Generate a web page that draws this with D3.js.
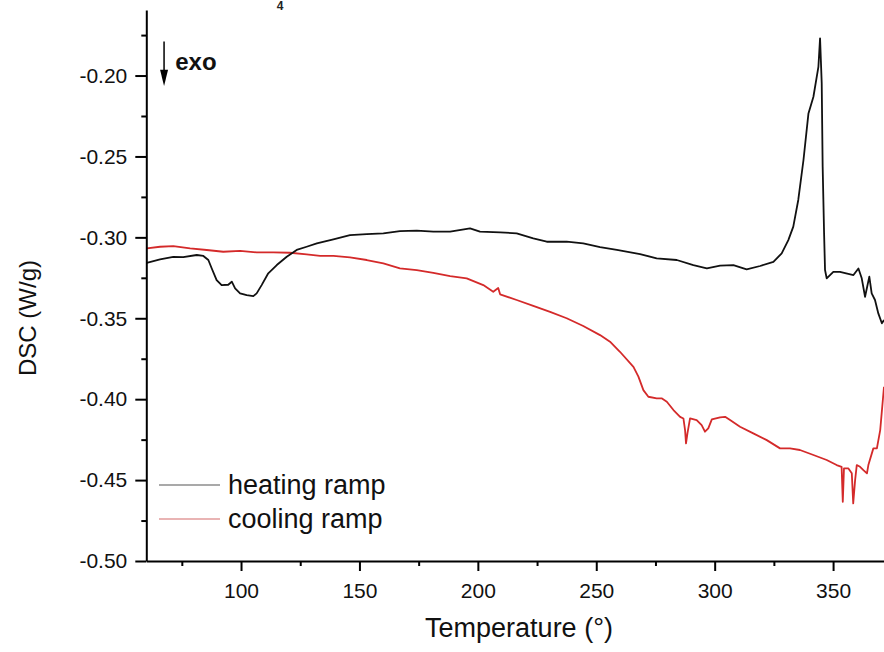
<!DOCTYPE html>
<html>
<head>
<meta charset="utf-8">
<script src="https://cdn.jsdelivr.net/npm/d3@7"></script>
<style>
  body { margin: 0; background: #fff; }
  svg { display: block; font-family: "Liberation Sans", Arial, sans-serif; }
</style>
</head>
<body>
<svg></svg>
<script>
// values: [temperature, DSC W/g]
const heatingRamp = [
  [60.2, -0.3157], [65.8, -0.3136], [71.4, -0.3120], [75.6, -0.3122], [81.3, -0.3109],
  [84.1, -0.3115], [86.2, -0.3140], [87.6, -0.3191], [89.7, -0.3264], [91.8, -0.3295],
  [94.6, -0.3293], [96.1, -0.3274], [97.5, -0.3315], [99.6, -0.3346], [102.4, -0.3357],
  [105.2, -0.3363], [106.6, -0.3346], [108.7, -0.3295], [111.5, -0.3222], [115.1, -0.3171],
  [119.3, -0.3120], [123.5, -0.3078], [127.7, -0.3058], [132.0, -0.3037], [139.0, -0.3012],
  [146.0, -0.2986], [153.1, -0.2980], [160.1, -0.2975], [167.1, -0.2961], [174.2, -0.2959],
  [181.2, -0.2965], [188.3, -0.2965], [196.7, -0.2944], [200.9, -0.2965], [209.4, -0.2969],
  [216.4, -0.2975], [223.4, -0.3006], [229.1, -0.3027], [237.5, -0.3027], [244.5, -0.3037],
  [251.6, -0.3060], [258.7, -0.3078], [268.5, -0.3103], [275.5, -0.3130], [284.0, -0.3140],
  [291.0, -0.3171], [296.7, -0.3191], [302.3, -0.3175], [307.9, -0.3171], [313.5, -0.3198],
  [319.2, -0.3177], [324.8, -0.3151], [328.3, -0.3099], [331.1, -0.3017], [333.2, -0.2934],
  [335.3, -0.2769], [337.5, -0.2522], [339.6, -0.2234], [341.7, -0.2131], [343.8, -0.1946],
  [344.5, -0.1770], [345.2, -0.2048], [345.6, -0.2564], [346.2, -0.2975], [346.6, -0.3202],
  [347.3, -0.3253], [350.1, -0.3213], [352.9, -0.3213], [358.6, -0.3233], [360.7, -0.3192],
  [362.1, -0.3253], [363.5, -0.3367], [365.3, -0.3243], [366.3, -0.3346], [367.7, -0.3387],
  [369.1, -0.3470], [370.6, -0.3531], [371.5, -0.3511]
];

const coolingRamp = [
  [60.2, -0.3068], [65.8, -0.3058], [71.4, -0.3054], [78.5, -0.3068], [85.5, -0.3078],
  [92.5, -0.3089], [99.6, -0.3083], [106.6, -0.3093], [113.6, -0.3093], [120.7, -0.3095],
  [127.7, -0.3105], [133.4, -0.3114], [139.0, -0.3115], [146.0, -0.3124], [153.1, -0.3140],
  [160.1, -0.3161], [167.1, -0.3192], [174.2, -0.3202], [181.2, -0.3219], [188.3, -0.3239],
  [195.3, -0.3253], [202.3, -0.3295], [206.5, -0.3336], [208.6, -0.3313], [209.4, -0.3352],
  [216.4, -0.3387], [223.4, -0.3424], [230.5, -0.3460], [237.5, -0.3500], [244.5, -0.3548],
  [251.6, -0.3604], [255.8, -0.3645], [260.0, -0.3707], [265.7, -0.3800], [267.8, -0.3861],
  [269.9, -0.3944], [272.0, -0.3985], [275.5, -0.3995], [277.6, -0.3995], [279.8, -0.4016],
  [282.6, -0.4067], [285.4, -0.4109], [286.8, -0.4119], [287.5, -0.4191], [287.9, -0.4273],
  [288.5, -0.4211], [289.6, -0.4119], [292.4, -0.4129], [294.5, -0.4160], [295.9, -0.4201],
  [297.3, -0.4180], [298.8, -0.4125], [302.3, -0.4112], [304.4, -0.4109], [306.5, -0.4129],
  [310.7, -0.4170], [316.3, -0.4211], [322.0, -0.4253], [327.6, -0.4304], [331.8, -0.4304],
  [336.0, -0.4314], [341.7, -0.4345], [347.3, -0.4376], [351.5, -0.4407], [353.6, -0.4418],
  [354.1, -0.4634], [354.6, -0.4427], [356.4, -0.4427], [357.9, -0.4458], [358.5, -0.4644],
  [359.3, -0.4500], [360.0, -0.4407], [361.4, -0.4418], [362.8, -0.4438], [364.3, -0.4458],
  [364.9, -0.4407], [367.0, -0.4304], [368.5, -0.4304], [369.9, -0.4191], [371.5, -0.3923]
];

const xMajor = [100, 150, 200, 250, 300, 350];
const xMinor = [75, 125, 175, 225, 275, 325];
const yMajor = [-0.50, -0.45, -0.40, -0.35, -0.30, -0.25, -0.20];
const yMinor = [-0.475, -0.425, -0.375, -0.325, -0.275, -0.225, -0.175];

const series = [
  { name: 'heating ramp', data: heatingRamp, color: '#111', legend: '#555' },
  { name: 'cooling ramp', data: coolingRamp, color: '#d42a2a', legend: '#d46a6a' }
];

const width = 884, height = 652;
const svg = d3.select('svg').attr('width', width).attr('height', height);

const x = d3.scaleLinear().domain([60, 371.5]).range([146.3, 884]);
const y = d3.scaleLinear().domain([-0.5, -0.1595]).range([561, 10]);

// curves
const line = d3.line().x(d => x(d[0])).y(d => y(d[1]));
svg.append('g').attr('class', 'curves')
  .selectAll('path')
  .data(series.slice().reverse())
  .enter().append('path')
    .attr('d', d => line(d.data))
    .attr('fill', 'none')
    .attr('stroke', d => d.color)
    .attr('stroke-width', 1.8)
    .attr('stroke-linejoin', 'round');

// axes
const xAxis = svg.append('g')
  .attr('transform', 'translate(0,' + y.range()[0] + ')')
  .call(d3.axisBottom(x).tickValues(xMajor).tickSize(10).tickSizeOuter(0).tickPadding(12));
xAxis.append('g')
  .call(d3.axisBottom(x).tickValues(xMinor).tickSize(5).tickSizeOuter(0).tickFormat(''))
  .select('.domain').remove();

const yAxis = svg.append('g')
  .attr('transform', 'translate(' + x.range()[0] + ',0)')
  .call(d3.axisLeft(y).tickValues(yMajor).tickSize(11).tickSizeOuter(0).tickPadding(8)
    .tickFormat(d => d.toFixed(2)));
yAxis.append('g')
  .call(d3.axisLeft(y).tickValues(yMinor).tickSize(5).tickSizeOuter(0).tickFormat(''))
  .select('.domain').remove();

svg.selectAll('.domain, .tick line').attr('stroke', '#000').attr('stroke-width', 2);
svg.selectAll('.tick text')
  .attr('fill', '#111')
  .style('font-size', '21px')
  .style('font-family', '"Liberation Sans", Arial, sans-serif');

// axis titles
svg.append('text')
  .attr('x', 519).attr('y', 637)
  .attr('text-anchor', 'middle')
  .style('font-size', '27px')
  .attr('fill', '#111')
  .text('Temperature (°)');

svg.append('text')
  .attr('transform', 'translate(36,318) rotate(-90)')
  .attr('text-anchor', 'middle')
  .style('font-size', '24px')
  .attr('fill', '#111')
  .text('DSC (W/g)');

// clipped title remnant (subscript)
svg.append('text')
  .attr('x', 280).attr('y', 10)
  .attr('text-anchor', 'middle')
  .style('font-size', '12px')
  .style('font-weight', 'bold')
  .attr('fill', '#222')
  .text('4');

// exo arrow
const ax = x(67.5);
svg.append('line')
  .attr('x1', ax).attr('x2', ax)
  .attr('y1', y(-0.179)).attr('y2', y(-0.197))
  .attr('stroke', '#000').attr('stroke-width', 1.5);
svg.append('path')
  .attr('d', 'M' + (ax - 4) + ',' + y(-0.1965) + 'L' + (ax + 4) + ',' + y(-0.1965) + 'L' + ax + ',' + y(-0.2065) + 'Z')
  .attr('fill', '#000');
svg.append('text')
  .attr('x', x(72.2)).attr('y', y(-0.1965))
  .style('font-size', '24px')
  .style('font-weight', 'bold')
  .attr('fill', '#111')
  .text('exo');

// legend
const legend = svg.append('g').attr('class', 'legend')
  .selectAll('g')
  .data(series)
  .enter().append('g')
    .attr('transform', (d, i) => 'translate(159,' + (485 + i * 34) + ')');
legend.append('line')
  .attr('x1', 0).attr('x2', 61)
  .attr('stroke', d => d.legend)
  .attr('stroke-width', 1.2);
legend.append('text')
  .attr('x', 69).attr('y', 9)
  .style('font-size', '27px')
  .attr('fill', '#111')
  .text(d => d.name);
</script>
</body>
</html>
